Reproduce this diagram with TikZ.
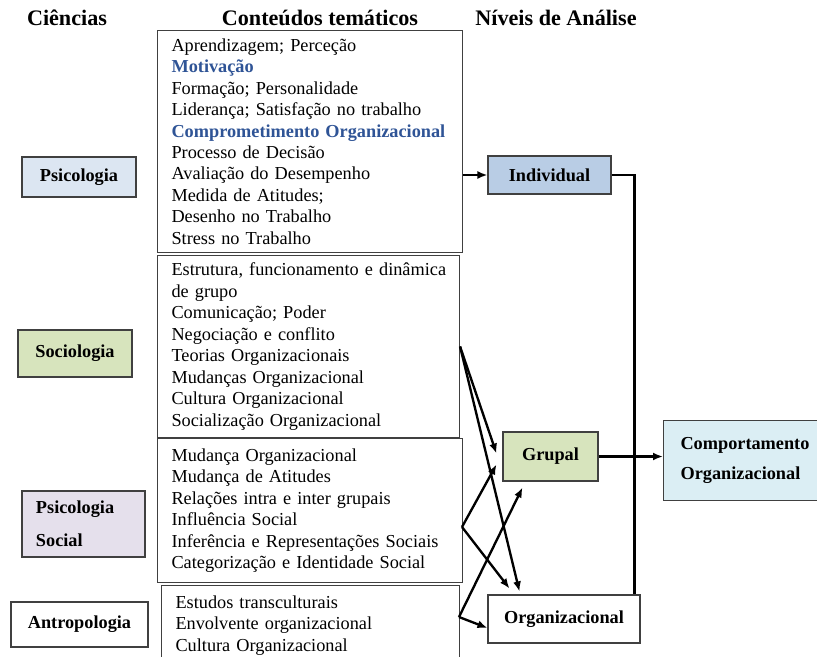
\documentclass[tikz,border=0pt]{standalone}
\usepackage{fontspec}
\setmainfont{Liberation Serif}
\usepackage{xcolor}
\usetikzlibrary{arrows.meta}
\definecolor{psyblue}{RGB}{220,230,242}
\definecolor{indblue}{RGB}{185,205,229}
\definecolor{socgreen}{RGB}{215,228,189}
\definecolor{soclilac}{RGB}{229,224,236}
\definecolor{coblue}{RGB}{219,238,244}
\definecolor{keyblue}{RGB}{47,84,150}
\newcommand{\keytopic}[1]{{\color{keyblue}\bfseries #1}}

\begin{document}
\begin{tikzpicture}[x=0.03cm, y=-0.03cm,
  heading/.style={font=\fontsize{18.9}{22}\selectfont\bfseries, inner sep=0pt},
  science/.style={draw=black!75, line width=0.9pt, align=left, inner sep=2pt,
    font=\fontsize{15.6}{18.3}\selectfont\bfseries},
  level/.style={science},
  topics/.style={draw=black!75, line width=0.9pt, anchor=north west, align=left,
    inner xsep=0.42cm, inner ysep=2pt, font=\fontsize{15.6}{18.3}\selectfont},
  edge/.style={-{Latex[length=3mm, width=2.4mm]}, line width=2pt},
  link/.style={line width=2pt}
]
\clip (0,0) rectangle (817,657);

\node[heading] (hsci) at (67,18) {Ciências};
\node[heading] (htop) at (320,18) {Conteúdos temáticos};
\node[heading] (hlev) at (556,18) {Níveis de Análise};

\node[topics, text width=8.31cm, minimum height=6.66cm] (b1) at (157,30) {Aprendizagem; Perceção\\
  \keytopic{Motivação}\\
  Formação; Personalidade\\
  Liderança; Satisfação no trabalho\\
  \keytopic{Comprometimento Organizacional}\\
  Processo de Decisão\\
  Avaliação do Desempenho\\
  Medida de Atitudes;\\
  Desenho no Trabalho\\
  Stress no Trabalho};
\node[topics, text width=8.22cm, minimum height=5.46cm] (b2) at (157,255) {\mbox{Estrutura, funcionamento e dinâmica}\\
  de grupo\\
  Comunicação; Poder\\
  Negociação e conflito\\
  Teorias Organizacionais\\
  Mudanças Organizacional\\
  Cultura Organizacional\\
  Socialização Organizacional};
\node[topics, text width=8.31cm, minimum height=4.32cm] (b3) at (157,438) {Mudança Organizacional\\
  Mudança de Atitudes\\
  Relações intra e inter grupais\\
  Influência Social\\
  Inferência e Representações Sociais\\
  Categorização e Identidade Social};
\node[topics, text width=8.1cm, minimum height=2.4cm] (b4) at (161,585) {Estudos transculturais\\
  Envolvente organizacional\\
  Cultura Organizacional};

\node[science, fill=psyblue, minimum width=3.42cm, minimum height=1.2cm] (psi) at (79,177) {Psicologia};
\node[science, fill=socgreen, minimum width=3.42cm, minimum height=1.41cm] (soc) at (75,353.5) {Sociologia};
\node[science, fill=soclilac, text width=2.85cm, inner xsep=0.42cm, minimum height=1.98cm] (pss) at (83.5,524) {Psicologia\\[9.7pt]Social};
\node[science, fill=white, minimum width=4.11cm, minimum height=1.35cm] (ant) at (79.5,624.5) {Antropologia};

\node[level, fill=indblue, minimum width=3.69cm, minimum height=1.14cm] (ind) at (549.5,175) {Individual};
\node[level, fill=socgreen, minimum width=2.85cm, minimum height=1.47cm] (grp) at (550.5,456.5) {Grupal};
\node[level, fill=white, minimum width=4.56cm, minimum height=1.44cm] (org) at (564,619) {Organizacional};
\node[level, fill=coblue, anchor=north west, text width=3.9cm, inner xsep=0.51cm,
  minimum height=2.4cm] (co) at (663,420) {Comportamento\\[7.3pt]Organizacional};

\coordinate (s2) at (b2.east);
\coordinate (s3) at (462,527);
\coordinate (s4) at (459,617);

\draw[edge] (ind.west -| b1.east) -- (ind.west);
\draw[link] (ind.east) -| ([xshift=-0.18cm]org.north east);
\draw[edge] (grp.east) -- (grp.east -| co.west);

\draw[edge] (s2) -- ([shift={(-6,-3)}]grp.west);
\draw[edge] (s2) -- ([shift={(32,-3)}]org.north west);
\draw[edge] (s3) -- ([shift={(-6,8)}]grp.west);
\draw[edge] (s3) -- ([shift={(22,-6)}]org.north west);
\draw[edge] (s4) -- ([shift={(20,6)}]grp.south west);
\draw[edge] (s4) -- ([shift={(0,9)}]org.west);
\end{tikzpicture}
\end{document}
